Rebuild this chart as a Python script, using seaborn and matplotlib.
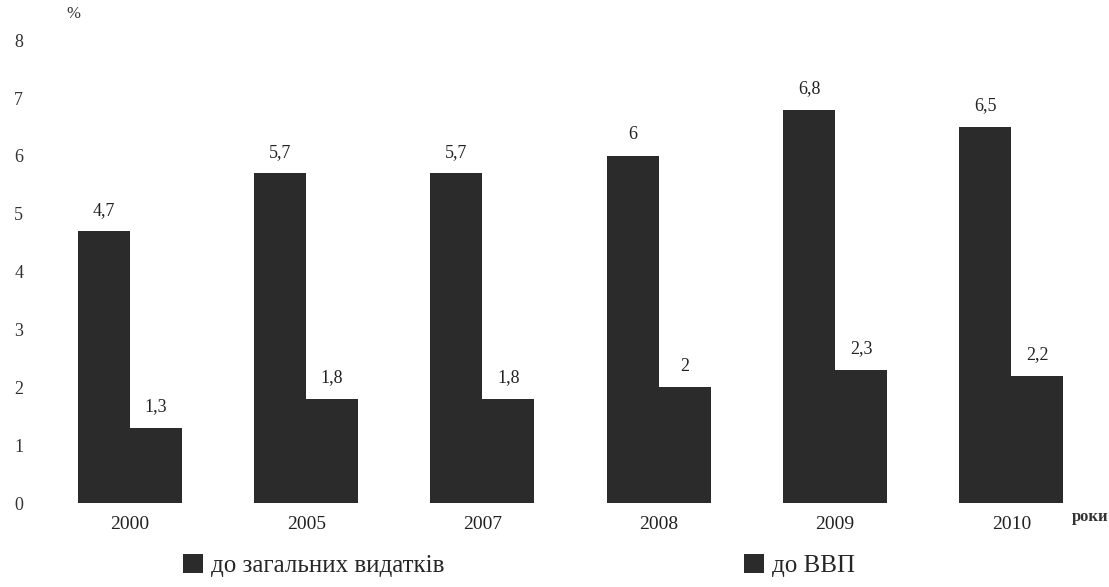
import matplotlib
matplotlib.use("Agg")
import matplotlib.pyplot as plt
import seaborn as sns
import pandas as pd

years = ["2000", "2005", "2007", "2008", "2009", "2010"]
to_expenses = [4.7, 5.7, 5.7, 6.0, 6.8, 6.5]
to_gdp = [1.3, 1.8, 1.8, 2.0, 2.3, 2.2]
series_names = ["до загальних видатків", "до ВВП"]
y_ticks = [0, 1, 2, 3, 4, 5, 6, 7, 8]

sns.set_theme(style="white")
plt.rcParams["font.family"] = ["Liberation Serif", "DejaVu Serif"]

df = pd.DataFrame({
    "year": years * 2,
    "value": to_expenses + to_gdp,
    "series": [series_names[0]] * len(years) + [series_names[1]] * len(years),
})

fig = plt.figure(figsize=(11.09, 5.87), dpi=100)
ax = fig.add_axes([0.036, 0.143, 0.93, 0.818])

dark = "#2b2b2b"
sns.barplot(data=df, x="year", y="value", hue="series", order=years,
            hue_order=series_names, palette=[dark, dark], width=0.59,
            saturation=1, linewidth=0, ax=ax, legend=True)

for cont in ax.containers:
    labels = [f"{v:g}".replace(".", ",") for v in cont.datavalues]
    ax.bar_label(cont, labels=labels, padding=9, fontsize=13, color="#222222")

ax.set_xlim(-0.51, 5.34)
ax.set_ylim(0, 8.3)
ax.set_yticks(y_ticks)
ax.tick_params(axis="y", labelsize=13, pad=0, length=0, labelcolor="#333333")
ax.tick_params(axis="x", labelsize=14, pad=9, length=0, labelcolor="#222222")
for lab in ax.get_yticklabels():
    lab.set_horizontalalignment("left")
    lab.set_x(-0.025)
ax.set_xlabel("")
ax.set_ylabel("")
sns.despine(ax=ax, left=True, bottom=True)

fig.text(66 / 1109, 1 - 14 / 587, "%", fontsize=12, color="#333333", va="center")
fig.text(1072 / 1109, 1 - 517 / 587, "роки", fontsize=12, fontweight="bold",
         color="#333333", va="center")

handles, lbls = ax.get_legend_handles_labels()
ax.get_legend().remove()
fig.legend(handles, lbls, loc="lower left", bbox_to_anchor=(0.145, -0.022),
           ncol=2, frameon=False, fontsize=18, handlelength=0.8,
           handleheight=0.8, handletextpad=0.3, columnspacing=12.0)

fig.savefig("out.png", dpi=100)
